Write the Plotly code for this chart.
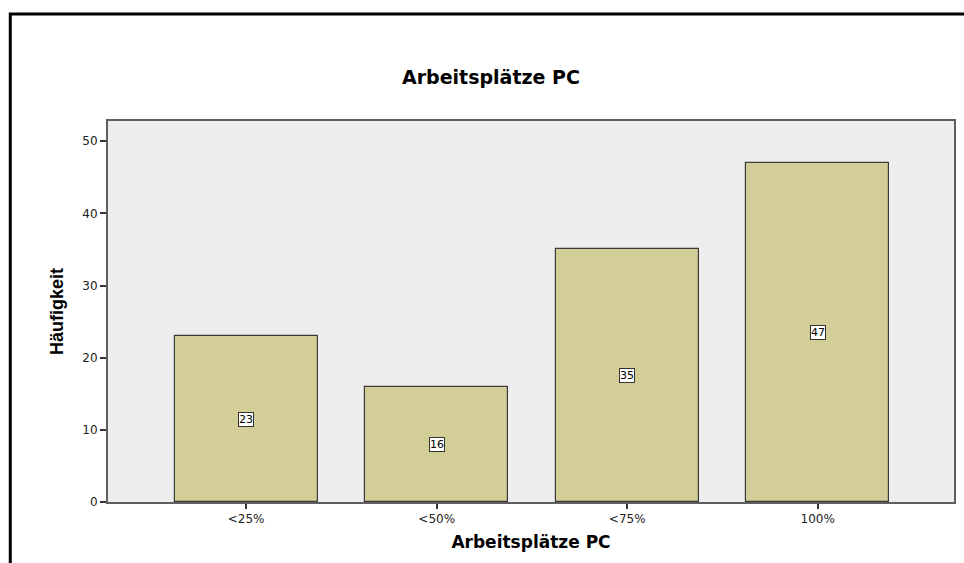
import plotly.graph_objects as go

# Frequency table: share of PC workplaces
categories = ["<25%", "<50%", "<75%", "100%"]
counts = [23, 16, 35, 47]
y_ticks = [0, 10, 20, 30, 40, 50]

bar_fill = "#d3ce98"
frame = "#5f5f5f"

fig = go.Figure()
fig.add_trace(go.Bar(
    x=list(range(len(categories))),
    y=counts,
    width=0.75,
    marker=dict(color=bar_fill, line=dict(color="#3a3a3a", width=1.2)),
    hoverinfo="x+y",
    showlegend=False,
))

# Value labels in small boxed tags at half the bar height
for i, c in enumerate(counts):
    fig.add_annotation(
        x=i, y=c / 2, text=str(c), showarrow=False,
        font=dict(family="DejaVu Sans", size=11, color="black"),
        bgcolor="white", bordercolor="#333333", borderwidth=1, borderpad=0,
    )

# Chart title
fig.add_annotation(
    xref="paper", yref="paper", x=(492 - 108) / 848, y=(502 - 77) / 381,
    text="<b>Arbeitsplätze PC</b>", showarrow=False,
    font=dict(family="DejaVu Sans", size=19, color="black"),
    xanchor="center", yanchor="middle",
)

# Page border (open on the right and bottom edges)
fig.add_shape(
    type="path", xref="paper", yref="paper",
    path="M -0.1155,-0.2 L -0.1155,1.2808 L 1.03,1.2808",
    line=dict(color="black", width=3),
)

fig.update_layout(
    width=964, height=563,
    margin=dict(l=108, r=8, t=121, b=61),
    paper_bgcolor="white",
    plot_bgcolor="#eeeeee",
    bargap=0,
    xaxis=dict(
        range=[-0.725, 3.715],
        tickmode="array",
        tickvals=list(range(len(categories))),
        ticktext=categories,
        ticks="outside", ticklen=5, tickwidth=1.5, tickcolor="#333333",
        showline=True, linecolor=frame, linewidth=2, mirror=True,
        showgrid=False, zeroline=False,
        tickfont=dict(family="DejaVu Sans", size=12, color="#222222"),
        title=dict(text="<b>Arbeitsplätze PC</b>", standoff=11,
                   font=dict(family="DejaVu Sans", size=17, color="black")),
        fixedrange=True,
    ),
    yaxis=dict(
        range=[0, 52.8],
        tickmode="array",
        tickvals=y_ticks,
        ticks="outside", ticklen=6, tickwidth=1.5, tickcolor="#333333",
        showline=True, linecolor=frame, linewidth=2, mirror=True,
        showgrid=False, zeroline=False,
        tickfont=dict(family="DejaVu Sans", size=12, color="#222222"),
        title=dict(text="<b>Häufigkeit</b>", standoff=14,
                   font=dict(family="Liberation Sans Narrow, Liberation Sans", size=18, color="black")),
        fixedrange=True,
    ),
)

fig.write_html("out.html")
